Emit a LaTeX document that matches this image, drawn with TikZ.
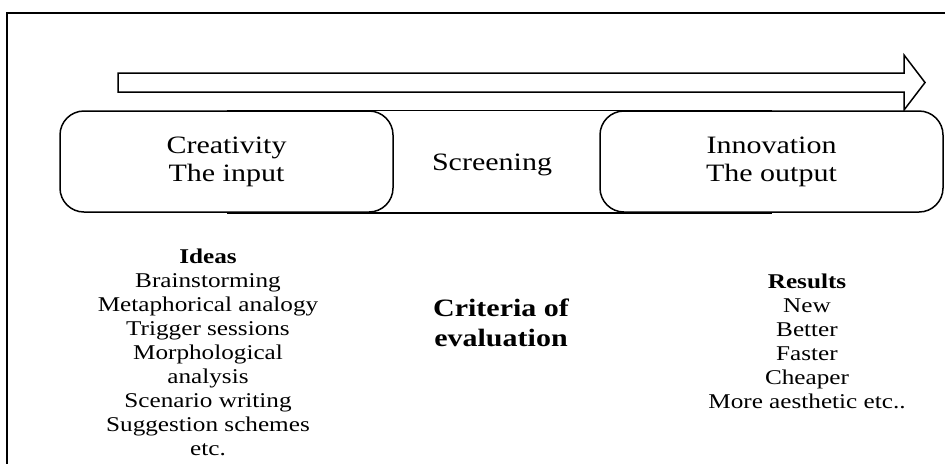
\documentclass[tikz,border=0pt]{standalone}
\usepackage{fontspec}
\setmainfont{Liberation Serif}[FakeStretch=1.2]
\begin{document}
\begin{tikzpicture}[x=0.5pt,y=-0.5pt,
  line width=0.75pt,
  stage/.style={draw, fill=white, rounded corners=12pt, minimum height=50.5pt,
    align=center, inner sep=0pt, font=\fontsize{12.5}{14}\selectfont},
  listtext/.style={align=center, anchor=north, inner sep=0pt,
    font=\fontsize{10.5}{12}\selectfont},
]
\useasboundingbox (0,0) rectangle (945,463);
% outer frame (runs past the right and bottom edges)
\draw[line width=0.9pt] (7,13) rectangle (990,500);
% flow arrow
\draw (118,73) -- (904,73) -- (904,55) -- (925,82.5) -- (904,110)
      -- (904,92) -- (118,92) -- cycle;
% input and output stages
\node[stage, minimum width=166.5pt] (input) at (226.5,161.5) {Creativity\\The input};
\node[stage, minimum width=171.5pt] (output) at (771.5,161.5) {Innovation\\The output};
% screening band between the stages
\draw (input.north) -- (output.north);
\draw (input.south) -- (output.south);
\node[inner sep=0pt, font=\fontsize{12.5}{14}\selectfont] (screen) at (492,165) {Screening};
% lists below
\node[listtext] (ideas) at (208,248.5) {\textbf{Ideas}\\Brainstorming\\Metaphorical analogy\\Trigger sessions\\Morphological\\analysis\\Scenario writing\\Suggestion schemes\\etc.};
\node[inner sep=0pt, align=center, font={\fontsize{12.5}{15}\selectfont\bfseries}] (criteria) at (501,323) {Criteria of\\evaluation};
\node[listtext] (results) at (807,272.8) {\textbf{Results}\\New\\Better\\Faster\\Cheaper\\More aesthetic etc..};
\end{tikzpicture}
\end{document}
